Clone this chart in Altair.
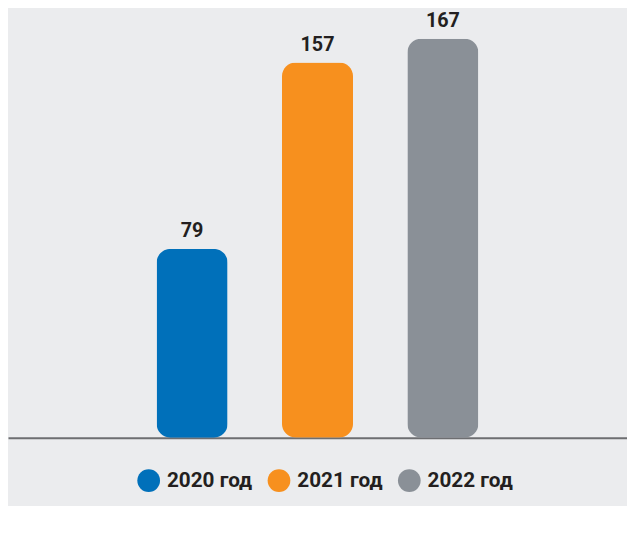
import altair as alt
import pandas as pd

years = ["2020 год", "2021 год", "2022 год"]
values = [79, 157, 167]
colors = ["#0070ba", "#f7901e", "#8a9097"]

df = pd.DataFrame({"year": years, "value": values})

x = alt.X("year:N", sort=years,
          scale=alt.Scale(paddingOuter=1, paddingInner=0.063),
          axis=alt.Axis(labels=False, ticks=False, title=None, grid=False,
                        domainColor="#6d6e71", domainWidth=2))
y = alt.Y("value:Q", scale=alt.Scale(domain=[0, 174.4], nice=False), axis=None)

bars = alt.Chart(df).mark_bar(size=72, cornerRadius=14).encode(
    x=x, y=y,
    color=alt.Color("year:N", sort=years,
                    scale=alt.Scale(domain=years, range=colors),
                    legend=alt.Legend(orient="none", legendX=131, legendY=454,
                                      direction="horizontal", title=None,
                                      symbolType="circle", symbolSize=529,
                                      symbolStrokeWidth=0, symbolOpacity=1,
                                      labelFontSize=21, labelFont="Roboto",
                                      labelFontWeight="bold", labelColor="#231f20",
                                      columnPadding=15, labelOffset=7))
)

labels = alt.Chart(df).mark_text(dy=-12, baseline="alphabetic", fontSize=20,
                                 font="Roboto", fontWeight="bold",
                                 color="#231f20").encode(
    x=alt.X("year:N", sort=years), y="value:Q", text="value:Q")

chart = (bars + labels).properties(
    width=627, height=422, background="#ebecee",
    padding={"left": 0, "top": 10, "right": 0, "bottom": 66},
    autosize=alt.AutoSizeParams(type="none")
).configure_view(stroke=None)

chart.save("out.html", embed_options={"renderer": "svg", "actions": False})
